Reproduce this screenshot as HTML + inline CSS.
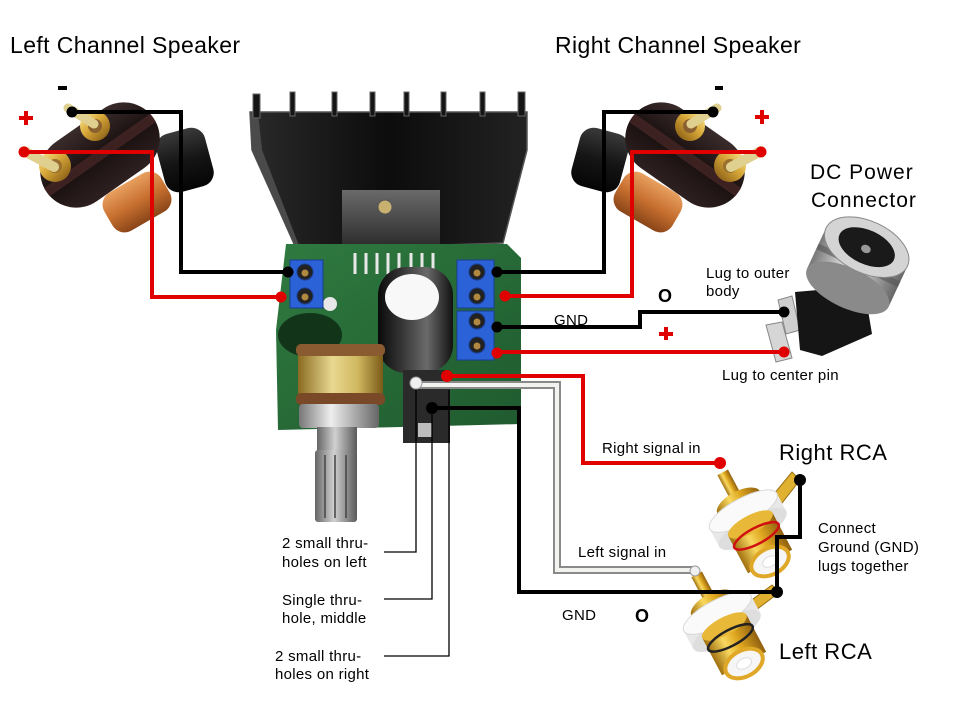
<!DOCTYPE html>
<html><head><meta charset="utf-8"><style>
html,body{margin:0;padding:0;background:#fff;}
svg{display:block;}
text{font-family:"Liberation Sans",Arial,sans-serif;fill:#000;}
.s{font-size:15px;letter-spacing:0.3px;}
.b{font-size:23px;letter-spacing:0.4px;}
</style></head><body>
<svg width="960" height="720" viewBox="0 0 960 720" xmlns="http://www.w3.org/2000/svg">
<defs>
<linearGradient id="gold" x1="0" y1="0" x2="1" y2="1"><stop offset="0" stop-color="#fff0a0"/><stop offset=".45" stop-color="#d8a838"/><stop offset="1" stop-color="#7a5010"/></linearGradient>
<linearGradient id="goldh" x1="0" x2="1" y1="0" y2="0"><stop offset="0" stop-color="#a07010"/><stop offset=".35" stop-color="#f8d860"/><stop offset=".6" stop-color="#e0a820"/><stop offset="1" stop-color="#906010"/></linearGradient>
<linearGradient id="silv" x1="0" x2="1" y1="0" y2="0"><stop offset="0" stop-color="#777"/><stop offset=".4" stop-color="#eee"/><stop offset="1" stop-color="#666"/></linearGradient>
<linearGradient id="blk" x1="0" y1="0" x2="0" y2="1"><stop offset="0" stop-color="#3a3a3a"/><stop offset=".5" stop-color="#151515"/><stop offset="1" stop-color="#050505"/></linearGradient>
<linearGradient id="plate" x1="0" y1="0" x2="0" y2="1"><stop offset="0" stop-color="#3b2c2c"/><stop offset=".5" stop-color="#1a1010"/><stop offset="1" stop-color="#2e2020"/></linearGradient>
<linearGradient id="org" x1="0" y1="0" x2="0" y2="1"><stop offset="0" stop-color="#e8a060"/><stop offset=".5" stop-color="#c87030"/><stop offset="1" stop-color="#8a4518"/></linearGradient>
<linearGradient id="hs" x1="0" y1="0" x2="1" y2="0"><stop offset="0" stop-color="#2a2a2a"/><stop offset=".5" stop-color="#0c0c0c"/><stop offset="1" stop-color="#222"/></linearGradient>
<linearGradient id="cap" x1="0" x2="1" y1="0" y2="0"><stop offset="0" stop-color="#0a0a0a"/><stop offset=".3" stop-color="#333"/><stop offset=".65" stop-color="#6a6a6a"/><stop offset="1" stop-color="#111"/></linearGradient>
<linearGradient id="pot" x1="0" x2="1" y1="0" y2="0"><stop offset="0" stop-color="#8a6a20"/><stop offset=".4" stop-color="#e8d890"/><stop offset=".7" stop-color="#d0b860"/><stop offset="1" stop-color="#7a5a18"/></linearGradient>
<linearGradient id="shaft" x1="0" x2="1" y1="0" y2="0"><stop offset="0" stop-color="#666"/><stop offset=".45" stop-color="#d0d0d0"/><stop offset="1" stop-color="#5a5a5a"/></linearGradient>
<linearGradient id="board" x1="0" y1="0" x2="1" y2="1"><stop offset="0" stop-color="#2f7a40"/><stop offset="1" stop-color="#1f5a2e"/></linearGradient>
<linearGradient id="ic" x1="0" y1="0" x2="0" y2="1"><stop offset="0" stop-color="#6a6a6a"/><stop offset="1" stop-color="#2a2a2a"/></linearGradient>

<g id="spk">
  <g transform="rotate(-15 185 160)"><rect x="160" y="130" width="50" height="60" rx="14" fill="url(#blk)"/></g>
  <g transform="rotate(-30 137 202)"><rect x="104" y="180" width="66" height="44" rx="14" fill="url(#org)"/></g>
  <g transform="rotate(-35 100 155)">
    <rect x="35" y="119" width="130" height="72" rx="36" fill="url(#plate)"/>
    <rect x="35" y="150" width="130" height="10" fill="#5a3030" opacity=".55"/>
  </g>
  <circle cx="95" cy="126" r="15" fill="url(#gold)"/>
  <circle cx="95" cy="126" r="7" fill="#8a6030"/>
  <path d="M68,108 L94,124" stroke="#e0d090" stroke-width="9" stroke-linecap="round"/>
  <circle cx="55" cy="166" r="16" fill="url(#gold)"/>
  <circle cx="55" cy="166" r="7" fill="#9a7030"/>
  <path d="M24,151 L54,167" stroke="#e0d090" stroke-width="10" stroke-linecap="round"/>
</g>

<g id="rca">
  <rect x="-6" y="-54" width="12" height="36" fill="url(#goldh)"/>
  <ellipse cx="0" cy="-20" rx="24" ry="11" fill="url(#goldh)"/>
  <rect x="-38" y="-10" width="76" height="20" fill="#e8e8e8"/>
  <ellipse cx="0" cy="10" rx="38" ry="13" fill="#dedede"/>
  <ellipse cx="0" cy="-10" rx="38" ry="13" fill="#fafafa" stroke="#d8d8d8"/>
  <rect x="-25" y="5" width="50" height="42" fill="url(#goldh)"/>
  <ellipse cx="0" cy="5" rx="25" ry="9" fill="#e8b838"/>
  <ellipse cx="0" cy="47" rx="20" ry="13" fill="#f6f6f6" stroke="#e0a828" stroke-width="4"/>
  <ellipse cx="0" cy="47" rx="8" ry="5" fill="#fff" stroke="#ddd"/>
</g>
</defs>

<rect width="960" height="720" fill="#fff"/>

<!-- speaker terminals -->
<use href="#spk"/>
<use href="#spk" transform="translate(785,0) scale(-1,1)"/>

<!-- heatsink -->
<path d="M250,112 L527,112 L527,150 L503,243 L297,250 L252,150 Z" fill="url(#hs)" stroke="#555" stroke-width="1.5"/>
<path d="M250,112 L258,112 L262,150 L300,248 L296,250 L252,150 Z" fill="#4a4a4a"/>
<g fill="#151515" stroke="#666" stroke-width="1">
<rect x="253" y="94" width="7" height="24"/>
<rect x="290" y="92" width="5" height="24"/>
<rect x="332" y="92" width="5" height="24"/>
<rect x="370" y="92" width="5" height="24"/>
<rect x="404" y="92" width="5" height="24"/>
<rect x="441" y="92" width="5" height="24"/>
<rect x="480" y="92" width="5" height="24"/>
<rect x="518" y="92" width="7" height="24"/>
</g>
<rect x="342" y="190" width="98" height="58" fill="url(#ic)"/>
<circle cx="385" cy="207" r="7" fill="#c8b070" stroke="#555"/>

<!-- board -->
<path d="M286,244 L507,244 L521,258 L521,424 L278,430 L276,330 Z" fill="url(#board)"/>
<g stroke="#e8e8e8" stroke-width="3">
<line x1="355" y1="253" x2="355" y2="274"/><line x1="366" y1="253" x2="366" y2="274"/>
<line x1="377" y1="253" x2="377" y2="274"/><line x1="388" y1="253" x2="388" y2="274"/>
<line x1="399" y1="253" x2="399" y2="274"/><line x1="411" y1="253" x2="411" y2="274"/>
<line x1="422" y1="253" x2="422" y2="274"/><line x1="433" y1="253" x2="433" y2="274"/>
</g>
<ellipse cx="310" cy="335" rx="32" ry="22" fill="#0e2a14" opacity=".85"/>
<circle cx="330" cy="304" r="7" fill="#e8e8e8"/>
<!-- terminal blocks -->
<g>
<rect x="290" y="260" width="33" height="48" fill="#2c62d8" stroke="#1a3e90"/>
<rect x="457" y="260" width="37" height="48" fill="#2c62d8" stroke="#1a3e90"/>
<rect x="457" y="311" width="37" height="49" fill="#2c62d8" stroke="#1a3e90"/>
<g fill="#222" stroke="#1a3e90"><circle cx="305" cy="272" r="8"/><circle cx="305" cy="296" r="8"/>
<circle cx="477" cy="272" r="8"/><circle cx="477" cy="296" r="8"/>
<circle cx="477" cy="321" r="8"/><circle cx="477" cy="345" r="8"/></g>
<g fill="#b08840"><circle cx="305" cy="273" r="3.5"/><circle cx="305" cy="297" r="3.5"/>
<circle cx="477" cy="273" r="3.5"/><circle cx="477" cy="297" r="3.5"/>
<circle cx="477" cy="322" r="3.5"/><circle cx="477" cy="346" r="3.5"/></g>
</g>
<!-- capacitor -->
<rect x="378" y="267" width="75" height="106" rx="28" fill="url(#cap)"/>
<ellipse cx="412" cy="297" rx="27" ry="23" fill="#f8f8f8"/>
<!-- input jack area -->
<rect x="403" y="370" width="47" height="73" fill="#2a2a2a"/>
<rect x="418" y="423" width="14" height="14" fill="#bdbdbd"/>
<!-- potentiometer -->
<rect x="298" y="347" width="85" height="56" fill="url(#pot)"/>
<rect x="296" y="344" width="89" height="12" rx="5" fill="#8a5a30"/>
<rect x="296" y="393" width="89" height="12" rx="5" fill="#7a4a28"/>
<rect x="299" y="404" width="80" height="24" rx="4" fill="url(#silv)"/>
<rect x="317" y="427" width="40" height="25" fill="url(#shaft)"/>
<rect x="315" y="450" width="42" height="72" rx="3" fill="url(#shaft)"/>
<g stroke="#444" stroke-width="1.5"><line x1="325" y1="455" x2="325" y2="518"/><line x1="335" y1="455" x2="335" y2="518"/><line x1="346" y1="455" x2="346" y2="518"/></g>

<!-- DC jack -->
<polygon points="778,300 792,296 800,330 786,334" fill="#cfcfcf" stroke="#888"/>
<polygon points="766,325 782,322 792,358 776,362" fill="#d6d6d6" stroke="#888"/>
<polygon points="795,292 864,286 872,334 822,356 800,350" fill="#151515"/>
<g transform="rotate(25 857 268)">
  <rect x="812" y="245" width="90" height="45" fill="url(#silv)"/>
  <ellipse cx="857" cy="290" rx="45" ry="20" fill="#8a8a8a"/>
  <rect x="812" y="262" width="90" height="6" fill="#555" opacity=".6"/>
  <ellipse cx="857" cy="245" rx="45" ry="26" fill="#d4d4d4" stroke="#888"/>
  <ellipse cx="857" cy="245" rx="30" ry="17" fill="#1a1a1a"/>
  <ellipse cx="857" cy="247" rx="5" ry="4" fill="#999"/>
</g>

<!-- RCA jacks -->
<polygon points="765,505 792,472 800,480 775,512" fill="#e0b030" stroke="#9a7010"/>
<g transform="translate(748,520) rotate(-28)">
  <use href="#rca"/>
  <ellipse cx="0" cy="18" rx="25" ry="8" fill="none" stroke="#d01010" stroke-width="2.5"/>
</g>
<polygon points="745,605 772,585 780,592 752,613" fill="#e0b030" stroke="#9a7010"/>
<g transform="translate(722,622) rotate(-28)">
  <use href="#rca"/>
  <ellipse cx="0" cy="18" rx="25" ry="8" fill="none" stroke="#222" stroke-width="2.5"/>
</g>

<!-- thin leader lines -->
<g fill="none" stroke="#000" stroke-width="1.3">
<path d="M416,383 V552 H384"/>
<path d="M432,408 V599 H384"/>
<path d="M449,390 V656 H384"/>
</g>

<!-- white wire -->
<path d="M416,385 H557 V570 H695" fill="none" stroke="#8a8a8a" stroke-width="8"/>
<path d="M416,385 H557 V570 H695" fill="none" stroke="#f2f2ee" stroke-width="4"/>
<circle cx="416" cy="383" r="6" fill="#f0f0f0" stroke="#999"/>
<circle cx="695" cy="571" r="5" fill="#f0f0f0" stroke="#999"/>

<!-- wires -->
<g fill="none" stroke-width="4" stroke-linejoin="miter">
<path d="M72,112 H181 V272 H288" stroke="#000"/>
<path d="M24,152 H152 V297 H281" stroke="#e00000"/>
<path d="M713,112 H604 V272 H497" stroke="#000"/>
<path d="M761,152 H632 V296 H505" stroke="#e00000"/>
<path d="M784,312 H640 V327 H497" stroke="#000"/>
<path d="M784,352 H497" stroke="#e00000"/>
<path d="M447,376 H583 V463 H720" stroke="#e00000"/>
<path d="M432,408 H519 V592 H777" stroke="#000"/>
<path d="M777,592 V537 H800 V480" stroke="#000"/>
</g>
<g fill="#000">
<circle cx="72" cy="112" r="5.5"/><circle cx="288" cy="272" r="5.5"/>
<circle cx="713" cy="112" r="5.5"/><circle cx="497" cy="272" r="5.5"/>
<circle cx="784" cy="312" r="5.5"/><circle cx="497" cy="327" r="5.5"/>
<circle cx="432" cy="408" r="6"/><circle cx="777" cy="592" r="6"/>
<circle cx="800" cy="480" r="6"/>
</g>
<g fill="#e00000">
<circle cx="24" cy="152" r="5.5"/><circle cx="281" cy="297" r="5.5"/>
<circle cx="761" cy="152" r="5.5"/><circle cx="505" cy="296" r="5.5"/>
<circle cx="784" cy="352" r="5.5"/><circle cx="497" cy="353" r="5.5"/>
<circle cx="447" cy="376" r="6"/><circle cx="720" cy="463" r="6"/>
</g>

<!-- polarity marks -->
<rect x="58" y="86" width="9" height="4" fill="#000"/>
<rect x="715" y="86" width="8" height="4" fill="#000"/>
<g fill="#e00000">
<rect x="19" y="116" width="14" height="4"/><rect x="24" y="111" width="4" height="14"/>
<rect x="755" y="115" width="14" height="4"/><rect x="760" y="110" width="4" height="14"/>
<rect x="659" y="332" width="14" height="4"/><rect x="664" y="327" width="4" height="13"/>
</g>
<text x="658" y="302" style="font-size:18px;font-weight:bold;">O</text>
<text x="635" y="622" style="font-size:18px;font-weight:bold;">O</text>

<!-- labels -->
<text class="b" x="10" y="53">Left Channel Speaker</text>
<text class="b" x="555" y="53">Right Channel Speaker</text>
<text x="810" y="179" style="font-size:21px;letter-spacing:1px;">DC Power</text>
<text x="811" y="207" style="font-size:21px;letter-spacing:1px;">Connector</text>
<text x="779" y="460" style="font-size:22px;letter-spacing:0.5px;">Right RCA</text>
<text x="779" y="659" style="font-size:22px;letter-spacing:0.5px;">Left RCA</text>

<text class="s" x="706" y="278">Lug to outer</text>
<text class="s" x="706" y="296">body</text>
<text class="s" x="554" y="325">GND</text>
<text class="s" x="722" y="380">Lug to center pin</text>
<text class="s" x="602" y="453">Right signal in</text>
<text class="s" x="818" y="533">Connect</text>
<text class="s" x="818" y="552">Ground (GND)</text>
<text class="s" x="818" y="571">lugs together</text>
<text class="s" x="578" y="557">Left signal in</text>
<text class="s" x="562" y="620">GND</text>
<text class="s" x="282" y="548">2 small thru-</text>
<text class="s" x="282" y="567">holes on left</text>
<text class="s" x="282" y="605">Single thru-</text>
<text class="s" x="282" y="623">hole, middle</text>
<text class="s" x="275" y="661">2 small thru-</text>
<text class="s" x="275" y="679">holes on right</text>
</svg>
</body></html>
